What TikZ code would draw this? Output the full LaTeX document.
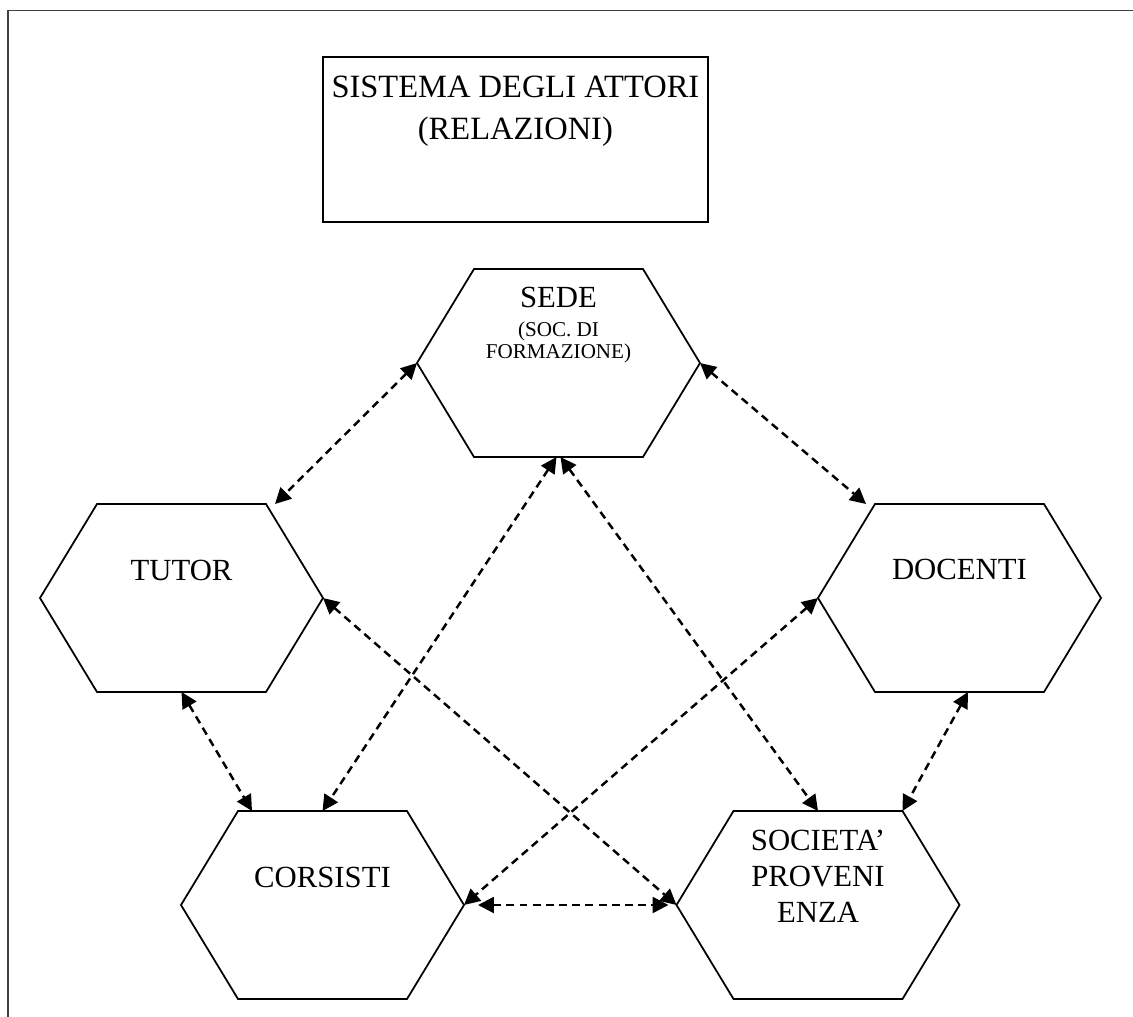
\documentclass[tikz,border=0pt]{standalone}
\usepackage{fontspec}
\setmainfont{Liberation Serif}
\usetikzlibrary{arrows.meta, positioning}

\tikzset{
  hexline/.style={line width=1pt, line join=miter},
  link/.style={line width=1.4pt, dash pattern=on 4.5pt off 3pt,
    {Triangle[length=9pt,width=9pt]}-{Triangle[length=9pt,width=9pt]}},
  big/.style={font=\fontsize{17.5}{20.5}\selectfont, inner sep=0pt},
  small/.style={font=\fontsize{12}{12.5}\selectfont, inner sep=0pt},
  hexa/.pic={
    \draw[hexline] (-141.5,0) coordinate (-w) -- (-84.5,-94) coordinate (-nw)
      -- (84.5,-94) coordinate (-ne) -- (141.5,0) coordinate (-e)
      -- (84.5,94) coordinate (-se) -- (-84.5,94) coordinate (-sw) -- cycle;
    \coordinate (-n) at (0,-94);
    \coordinate (-s) at (0,94);
  }
}

\begin{document}
\begin{tikzpicture}[x=0.02cm, y=-0.02cm]
        \useasboundingbox (0,0) rectangle (1133,1017);
        % Frame
        \draw[black!75, line width=0.7pt] (8,1017) -- (8,10.7) -- (1133,10.7);

        % Title
        \node[draw, line width=1pt, minimum width=7.71cm, minimum height=3.3cm] (titlebox) at (515.4,139.2) {};
        \node[big, font=\fontsize{18.5}{24}\selectfont, align=center, anchor=north] (title)
          at ([yshift=-0.39cm]titlebox.north) {SISTEMA DEGLI ATTORI\\(RELAZIONI)};

        % Actors
        \pic (sedehex) at (558.5,363) {hexa};
        \pic (tutorhex) at (181.5,598) {hexa};
        \pic (docentihex) at (959.5,598) {hexa};
        \pic (corsistihex) at (322.5,905) {hexa};
        \pic (societahex) at (818,905) {hexa};

        \node[big, anchor=base] (sede) at (558.5,307.7) {SEDE};
        \node[small, align=center, anchor=north] (sedesub) at (558.5,321.4) {(SOC. DI\\FORMAZIONE)};
        \node[big, anchor=base] (tutor) at (181.5,580.5) {TUTOR};
        \node[big, anchor=base] (docenti) at (959.5,579) {DOCENTI};
        \node[big, anchor=base] (corsisti) at (322.5,887) {CORSISTI};
        \node[big, align=center, anchor=north] (societa) at (818,829.6) {SOCIETA’\\PROVENI\\ENZA};

        % Relations
        \draw[link] (sedehex-w) -- ([xshift=0.18cm]tutorhex-ne);
        \draw[link] (sedehex-e) -- ([xshift=-0.18cm]docentihex-nw);
        \draw[link] (tutorhex-s) -- ([xshift=0.28cm]corsistihex-nw);
        \draw[link] ([xshift=0.17cm]docentihex-s) -- (societahex-ne);
        \draw[link] ([xshift=-0.04cm]sedehex-s) -- (corsistihex-n);
        \draw[link] ([xshift=0.04cm]sedehex-s) -- (societahex-n);
        \draw[link] (tutorhex-e) -- (societahex-w);
        \draw[link] (docentihex-w) -- (corsistihex-e);
        \draw[link] ([xshift=0.28cm]corsistihex-e) -- ([xshift=-0.16cm]societahex-w);
\end{tikzpicture}
\end{document}
